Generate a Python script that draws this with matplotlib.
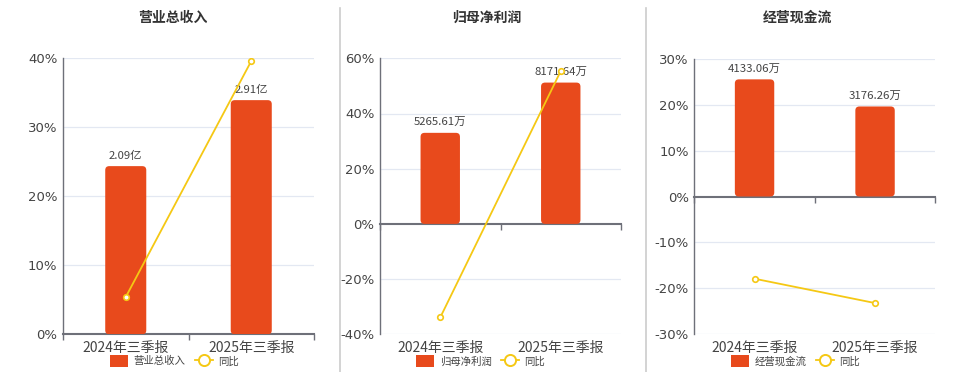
import matplotlib
matplotlib.use("Agg")
import matplotlib.pyplot as plt
from matplotlib.patches import FancyBboxPatch
from matplotlib.lines import Line2D
from matplotlib.patches import Patch

plt.rcParams['font.family'] = ['Noto Sans CJK SC', 'DejaVu Sans']

categories = ["2024年三季报", "2025年三季报"]

titles = ["营业总收入", "归母净利润", "经营现金流"]
bar_values = [[2.09, 2.91], [5265.61, 8171.64], [4133.06, 3176.26]]
bar_labels = [["2.09亿", "2.91亿"], ["5265.61万", "8171.64万"], ["4133.06万", "3176.26万"]]
yoy_values = [[5.4, 39.6], [-33.9, 55.4], [-17.9, -23.2]]
pct_ticks = [[0, 10, 20, 30, 40], [-40, -20, 0, 20, 40, 60], [-30, -20, -10, 0, 10, 20, 30]]
bar_limits = [(0, 3.43), (-6384, 9576), (-4862, 4862)]

BAR = "#E84A1C"
LINE = "#F5C814"
GRID = "#E3E8F2"
AX = "#6E7079"
TXT = "#444444"

W, H = 960, 372
fig = plt.figure(figsize=(9.6, 3.72), dpi=100)

# axes pixel boxes: left, right, top, bottom
boxes = [(63, 314, 58.3, 334.3), (380, 621, 58.3, 334.3), (694.3, 935.3, 58.7, 334.3)]
title_x = [173, 487, 797]
legend_x = [110, 416, 731]

for i in range(3):
    l, r, t, b = boxes[i]
    wpx, hpx = r - l, b - t
    ax = fig.add_axes([l / W, (H - b) / H, wpx / W, hpx / H])
    ticks = pct_ticks[i]
    ax.set_ylim(ticks[0], ticks[-1])
    ax.set_xlim(-0.5, 1.5)
    ax.set_yticks(ticks)
    ax.set_yticklabels([f"{v}%" for v in ticks], fontsize=9.5, color=TXT, family=['DejaVu Sans'])
    ax.tick_params(axis='y', length=0, pad=4)
    for v in ticks:
        if v != 0:
            ax.axhline(v, color=GRID, lw=0.9, zorder=0)
    for s in ['top', 'right', 'bottom']:
        ax.spines[s].set_visible(False)
    ax.spines['left'].set_color(AX)
    ax.spines['left'].set_linewidth(1.0)
    ax.set_xticks([0, 1])
    ax.set_xticklabels(categories, fontsize=10, color=TXT)
    ax.tick_params(axis='x', length=0, pad=5)

    zero_frac = (0 - ticks[0]) / (ticks[-1] - ticks[0])
    sec = ax.secondary_xaxis(min(zero_frac, 0.4999))
    sec.set_xticks([-0.5, 0.5, 1.5])
    sec.set_xticklabels(["", "", ""])
    sec.tick_params(axis='x', length=4, color=AX, width=1.0, direction='out')
    for sp in sec.spines.values():
        sp.set_color(AX)
        sp.set_linewidth(1.5)

    # bars on hidden twin axis
    bx = ax.twinx()
    ylo, yhi = bar_limits[i]
    bx.set_ylim(ylo, yhi)
    bx.axis('off')
    bx.set_zorder(1)
    bars = bx.bar([0, 1], bar_values[i], width=0.327, color=BAR, zorder=2)
    xunit = 2.0 / wpx
    yunit = (yhi - ylo) / hpx
    for rect, lab in zip(bars, bar_labels[i]):
        rect.set_visible(False)
        x0, y0 = rect.get_x(), rect.get_y()
        w, h = rect.get_width(), rect.get_height()
        fb = FancyBboxPatch((x0, y0), w, h,
                            boxstyle=f"round,pad=0,rounding_size={4 * xunit}",
                            mutation_aspect=yunit / xunit,
                            fc=BAR, ec="none", zorder=2)
        bx.add_patch(fb)
        bx.annotate(lab, (x0 + w / 2, y0 + h), xytext=(0, 4), textcoords='offset points',
                    ha='center', va='bottom', fontsize=8.2, color=TXT, zorder=3)

    # yoy line on top
    lx = ax.twinx()
    lx.set_ylim(ticks[0], ticks[-1])
    lx.axis('off')
    lx.set_zorder(2)
    lx.plot([0, 1], yoy_values[i], color=LINE, lw=1.3, marker='o', ms=4,
            mfc='white', mec=LINE, mew=1.2)

    fig.text(title_x[i] / W, 1 - 18 / H, titles[i], ha='center', va='center',
             fontsize=10, fontweight='bold', color="#333333")

    # legend
    fig.legend(handles=[Patch(fc=BAR, ec='none', label=titles[i]),
                        Line2D([0], [0], color=LINE, lw=1.3, marker='o', ms=8,
                               mfc='white', mec=LINE, mew=1.4, label="同比")],
               loc='center left', bbox_to_anchor=((legend_x[i] - 5) / W, 1 - 361 / H),
               ncol=2, frameon=False, fontsize=7.5, handlelength=1.7, handleheight=1.4,
               handletextpad=0.55, columnspacing=0.9, borderpad=0, labelcolor=TXT)

# separators
for sx in [340, 646]:
    fig.add_artist(Line2D([sx / W, sx / W], [0, 1 - 8 / H], color="#CCCCCC", lw=1.2))

fig.savefig("out.png", dpi=100, facecolor='white')
